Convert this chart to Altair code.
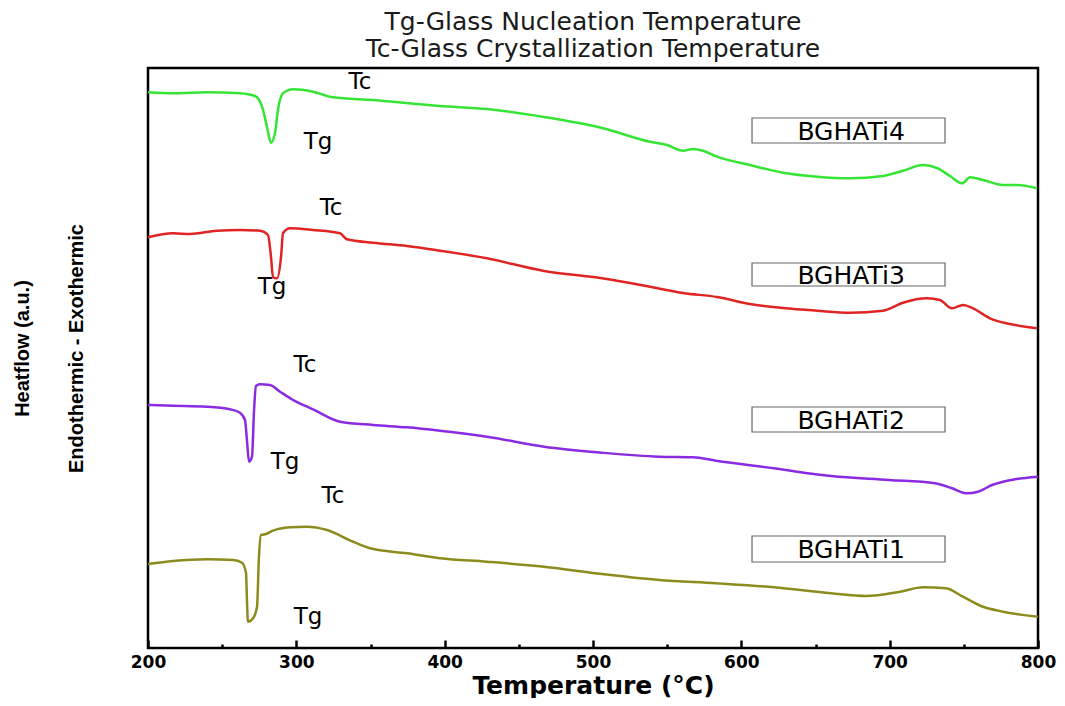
import altair as alt
import pandas as pd

# ---------------- data ----------------
series_names = ["BGHATi4", "BGHATi3", "BGHATi2", "BGHATi1"]
series_colors = ["#36e436", "#e02424", "#8a2be2", "#8c8c1e"]

t_i4 = [200.0, 216.9, 239.8, 262.0, 272.1, 276.9, 280.2, 282.9, 285.6, 287.6, 291.0, 297.8,
        311.2, 324.7, 351.7, 396.9, 428.5, 467.0, 506.1, 538.4, 549.9, 560.7, 567.4, 574.2,
        583.6, 605.8, 628.1, 651.0, 673.3, 695.5, 709.0, 722.5, 731.9, 740.7, 748.8, 754.2,
        762.9, 776.4, 785.9, 799.3]
v_i4 = [555.7, 554.7, 555.7, 554.7, 552.0, 541.3, 521.3, 505.3, 514.7, 538.0, 554.7, 558.7,
        556.3, 550.7, 548.0, 542.0, 539.0, 531.0, 520.0, 506.3, 503.0, 497.3, 499.0, 497.3,
        491.3, 483.0, 475.3, 471.3, 469.7, 472.0, 477.3, 483.0, 480.0, 472.0, 464.7, 470.7,
        468.0, 463.0, 463.0, 459.7]

t_i3 = [200.0, 216.9, 228.3, 246.5, 262.0, 275.5, 280.9, 282.9, 284.3, 287.0, 289.7, 291.0,
        295.7, 311.2, 329.4, 334.2, 351.7, 374.6, 396.9, 428.5, 467.0, 506.1, 538.4, 560.7,
        583.6, 605.8, 628.1, 651.0, 673.3, 695.5, 709.0, 725.2, 733.9, 742.0, 749.4, 756.2,
        767.6, 781.1, 799.3]
v_i3 = [410.7, 414.7, 414.0, 417.3, 418.0, 417.3, 413.0, 391.3, 370.7, 369.7, 391.3, 414.7,
        419.7, 418.0, 414.7, 408.7, 405.3, 402.0, 397.3, 389.7, 377.0, 369.7, 361.3, 355.0,
        351.0, 344.0, 340.0, 337.3, 335.3, 337.3, 345.3, 349.7, 348.0, 339.7, 343.0, 339.7,
        329.7, 324.0, 319.7]

t_i2 = [200.0, 216.9, 239.8, 255.3, 262.0, 265.4, 266.7, 268.1, 270.1, 271.5, 272.8, 275.5,
        282.2, 289.0, 297.8, 311.2, 329.4, 351.7, 374.6, 396.9, 428.5, 467.0, 506.1, 544.5,
        567.4, 582.9, 622.0, 660.5, 699.6, 730.6, 742.0, 751.5, 759.6, 769.0, 784.5, 800.0]
v_i2 = [243.0, 242.3, 241.3, 238.7, 235.3, 228.0, 208.0, 186.3, 191.3, 238.0, 262.0, 263.7,
        263.0, 256.3, 248.0, 238.7, 226.3, 223.0, 220.7, 217.3, 211.3, 201.3, 195.3, 191.3,
        190.7, 187.3, 179.7, 172.0, 168.0, 164.7, 159.7, 154.7, 156.3, 163.0, 168.7, 171.3]

t_i1 = [200.0, 216.9, 239.8, 257.3, 263.4, 266.1, 266.7, 267.4, 270.8, 273.5, 274.8, 276.2,
        279.6, 284.3, 295.7, 307.2, 320.7, 338.2, 349.7, 374.6, 396.9, 428.5, 467.0, 506.1,
        544.5, 582.9, 622.0, 660.5, 684.0, 707.0, 722.5, 738.0, 749.4, 761.6, 776.4, 800.0]
v_i1 = [84.0, 87.0, 88.7, 88.0, 85.3, 74.7, 48.0, 26.3, 29.7, 41.3, 91.3, 113.0,
        114.0, 117.3, 120.7, 121.3, 118.0, 106.3, 99.7, 94.7, 89.7, 86.3, 81.3, 74.0,
        68.0, 64.7, 60.7, 54.7, 52.0, 56.3, 60.7, 59.7, 51.3, 42.0, 36.3, 31.3]

# peak annotations
note_text = ["Tc", "Tg", "Tc", "Tg", "Tc", "Tg", "Tc", "Tg"]
note_t = [342.9, 314.6, 323.4, 283.6, 305.8, 292.4, 324.7, 307.9]
note_v = [566.0, 506.0, 440.0, 361.0, 283.0, 186.0, 152.0, 31.0]

# sample-name boxes
box_t1 = [607.2, 607.2, 607.2, 607.2]
box_t2 = [737.3, 737.3, 737.3, 737.3]
box_v1 = [505.0, 362.0, 216.0, 86.0]
box_v2 = [530.0, 385.0, 241.0, 112.0]
box_label_t = [674.0, 674.0, 674.0, 674.0]

x_ticks = list(range(200, 801, 50))

# ---------------- tables ----------------
rows = []
for name, ts, vs in zip(series_names, [t_i4, t_i3, t_i2, t_i1], [v_i4, v_i3, v_i2, v_i1]):
    for i, (t, v) in enumerate(zip(ts, vs)):
        rows.append({"series": name, "T": t, "v": v, "i": i})
df = pd.DataFrame(rows)

notes = pd.DataFrame({"label": note_text, "T": note_t, "v": note_v})
boxes = pd.DataFrame({
    "label": series_names, "T1": box_t1, "T2": box_t2,
    "v1": box_v1, "v2": box_v2, "Tc": box_label_t,
    "vc": [(a + b) / 2 for a, b in zip(box_v1, box_v2)],
})

x_scale = alt.Scale(domain=[200, 800], nice=False, zero=False)
y_scale = alt.Scale(domain=[0, 580], nice=False, zero=False)

x_axis = alt.Axis(
    values=x_ticks,
    labelExpr="datum.value % 100 === 0 ? datum.label : ''",
    ticks=True, tickSize={"expr": "-8"}, tickColor="black", tickWidth=2.5,
    tickDash={"condition": {"test": "datum.value % 100 !== 0", "value": [4, 20]},
              "value": [20, 1]},
    domain=False, grid=False, zindex=1,
    labelFont="DejaVu Sans", labelFontWeight="bold", labelFontSize=17,
    labelColor="black", labelPadding=14, labelFlush=False,
    titleFont="DejaVu Sans", titleFontWeight="bold", titleFontSize=25,
    titleColor="black", titlePadding=3,
)
y_axis = alt.Axis(
    labels=False, ticks=False, domain=False, grid=False,
    titleFont="Liberation Sans", titleFontWeight="bold", titleFontSize=20,
    titleColor="black", titleLineHeight=54, titlePadding=62, titleY=280,
)

lines = alt.Chart(df).mark_line(strokeWidth=2.5, interpolate="monotone").encode(
    x=alt.X("T:Q", scale=x_scale, axis=x_axis, title="Temperature (°C)"),
    y=alt.Y("v:Q", scale=y_scale, axis=y_axis,
            title=["Heatflow (a.u.)", "Endothermic - Exothermic"]),
    color=alt.Color("series:N", scale=alt.Scale(domain=series_names, range=series_colors),
                    legend=None),
    order="i:Q",
)

rects = alt.Chart(boxes).mark_rect(fill="white", stroke="#666666", strokeWidth=1.2).encode(
    x="T1:Q", x2="T2", y="v1:Q", y2="v2",
)
rect_text = alt.Chart(boxes).mark_text(
    font="DejaVu Sans", fontSize=25, color="black", align="center", baseline="middle", dy=1
).encode(x="Tc:Q", y="vc:Q", text="label:N")

note_marks = alt.Chart(notes).mark_text(
    font="DejaVu Sans", fontSize=23, color="black", align="center", baseline="middle"
).encode(x="T:Q", y="v:Q", text="label:N")

chart = alt.layer(lines, rects, rect_text, note_marks).properties(
    width=890, height=580,
    autosize=alt.AutoSizeParams(type="none"),
    padding={"left": 140, "top": 60, "right": 19, "bottom": 50},
    title=alt.TitleParams(
        text=["Tg-Glass Nucleation Temperature", "Tc-Glass Crystallization Temperature"],
        font="DejaVu Sans", fontSize=25, fontWeight="normal", color="#1a1a1a",
        lineHeight=27, offset=6, anchor="middle",
    ),
).configure_view(stroke="black", strokeWidth=2.5)

chart.save("out.html", embed_options={"renderer": "svg", "actions": False})
